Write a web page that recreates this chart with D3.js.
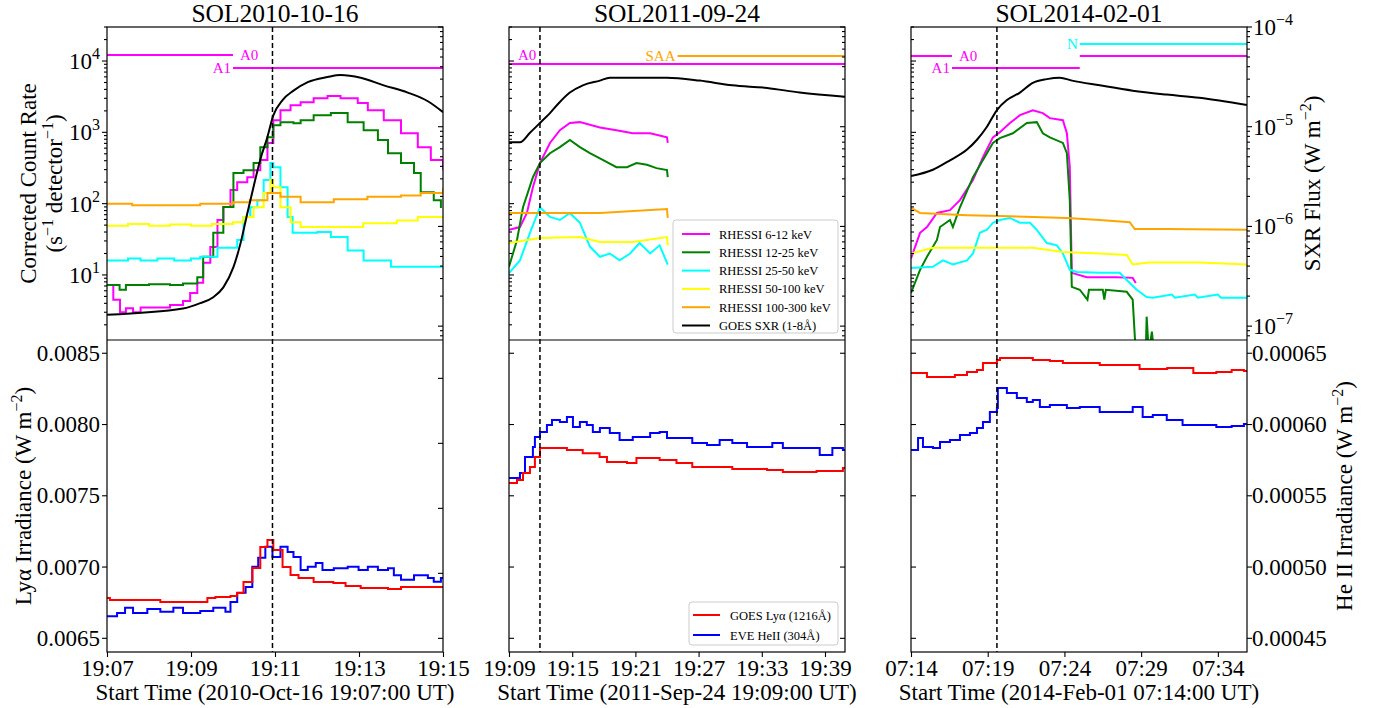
<!DOCTYPE html>
<html>
<head>
<meta charset="utf-8">
<script src="https://cdn.jsdelivr.net/npm/d3@7"></script>
<style>
  body { margin: 0; background: #fff; }
  svg text { font-family: "Liberation Serif", "DejaVu Serif", "Times New Roman", serif; }
</style>
</head>
<body>
<script>
// ---- events ----
var flareNames = ["SOL2010-10-16", "SOL2011-09-24", "SOL2014-02-01"];
var startTimes = ["2010-10-16T19:07:00Z", "2011-09-24T19:09:00Z", "2014-02-01T07:14:00Z"];
var xTitles = ["Start Time (2010-Oct-16 19:07:00 UT)", "Start Time (2011-Sep-24 19:09:00 UT)", "Start Time (2014-Feb-01 07:14:00 UT)"];
var spanMinutes = [8, 31.9, 21.9];
var tickMinutes = [[0, 2, 4, 6, 8], [0, 6, 12, 18, 24, 30], [0, 5, 10, 15, 20]];
var markerMinutes = [3.94, 2.94, 5.6];

var bandNames = ["RHESSI 6-12 keV", "RHESSI 12-25 keV", "RHESSI 25-50 keV", "RHESSI 50-100 keV", "RHESSI 100-300 keV", "GOES SXR (1-8\u00c5)"];
var bandColors = ["#ff00ff", "#008000", "#00ffff", "#ffff00", "#ffa500", "#000000"];
var uvNames = ["GOES Ly\u03b1 (1216\u00c5)", "EVE HeII (304\u00c5)"];
var uvColors = ["#ff0000", "#0000ff"];

// axis ranges
var countTicks = [10, 100, 1000, 10000];
var sxrTicks = [1e-7, 1e-6, 1e-5, 1e-4];
var lyaTicks = [0.0065, 0.0070, 0.0075, 0.0080, 0.0085];
var heTicks = [0.00045, 0.00050, 0.00055, 0.00060, 0.00065];
var he2010Ticks = [0.00043, 0.00044, 0.00045, 0.00046, 0.00047];

// ---- SOL2010-10-16 : [minutes from start, value] ----
var mag2010 = [[0,7.2],[0.15,4.5],[0.31,3.0],[0.45,3.4],[0.62,3.0],[0.8,3.5],[1.03,3.5],[1.5,3.8],[1.81,4.3],[1.98,5.6],[2.15,7.8],[2.29,14.8],[2.46,24.6],[2.63,59],[2.77,90],[2.94,155],[3.1,200],[3.34,235],[3.49,295],[3.65,410],[3.82,710],[3.96,1480],[4.13,2040],[4.37,2400],[4.61,2650],[4.92,3000],[5.25,3240],[5.56,3000],[5.97,2580],[6.21,2040],[6.59,1480],[7.0,970],[7.4,620],[7.71,410],[8.0,295]];
var grn2010 = [[0,7.2],[0.3,6.2],[0.45,7.2],[1.0,7.4],[1.5,7.2],[1.81,7.6],[2.15,9.3],[2.29,18],[2.53,39],[2.77,90],[3.01,270],[3.25,295],[3.49,370],[3.65,620],[3.82,850],[3.96,1260],[4.13,1390],[4.44,1340],[4.61,1480],[4.92,1740],[5.33,1870],[5.73,1390],[6.11,1070],[6.45,780],[6.69,510],[7.0,370],[7.31,270],[7.47,145],[7.78,112],[7.95,87]];
var cyn2010 = [[0,16],[0.5,17],[0.8,16],[1.2,17],[1.6,16],[2.0,17],[2.22,18],[2.63,24],[3.1,31],[3.25,65],[3.41,89],[3.58,112],[3.73,214],[3.89,370],[3.96,325],[4.13,170],[4.3,65],[4.42,39],[4.68,39],[5.01,40],[5.33,34],[5.73,22],[6.11,16],[6.76,13],[8.0,13]];
var yel2010 = [[0,49],[0.5,52],[1.0,49],[1.5,51],[2.0,49],[2.5,52],[3.0,55],[3.25,65],[3.49,89],[3.73,141],[3.89,214],[3.96,170],[4.13,89],[4.37,55],[4.61,47],[5.3,47],[6.1,53],[6.9,58],[7.4,65],[8.0,65]];
var org2010 = [[0,100],[0.6,95],[2.22,100],[3.0,105],[3.4,112],[3.82,141],[3.96,141],[4.13,125],[4.61,105],[5.4,115],[6.2,125],[7.0,130],[7.47,141],[8.0,165]];
var goes2010 = [[0,1.3e-7],[1.81,1.5e-7],[2.22,1.7e-7],[2.53,1.95e-7],[2.77,2.45e-7],[3.01,3.9e-7],[3.18,6.8e-7],[3.34,1.35e-6],[3.49,2.5e-6],[3.65,4.7e-6],[3.82,7.9e-6],[3.96,1.3e-5],[4.18,1.85e-5],[4.44,2.3e-5],[4.78,2.8e-5],[5.25,3.15e-5],[5.56,3.3e-5],[6.04,3.1e-5],[6.59,2.6e-5],[7.16,2.2e-5],[7.64,1.8e-5],[8.0,1.4e-5]];
var lya2010 = [[0,0.006783],[0.07,0.006769],[1.27,0.006755],[2.15,0.006755],[2.39,0.006783],[2.58,0.00679],[2.94,0.006797],[3.1,0.006818],[3.25,0.006895],[3.46,0.006993],[3.65,0.007141],[3.82,0.00719],[3.96,0.00712],[4.18,0.007],[4.37,0.006944],[4.56,0.006923],[4.92,0.006895],[5.39,0.006888],[5.68,0.006867],[6.04,0.006853],[6.69,0.006846],[7.0,0.00686],[8.0,0.00686]];
var he2010 = [[0,0.0004334],[0.24,0.0004339],[0.43,0.0004347],[0.62,0.0004339],[0.96,0.0004345],[1.27,0.0004341],[1.58,0.0004347],[1.81,0.0004339],[2.22,0.0004342],[2.53,0.0004347],[2.82,0.0004341],[2.94,0.0004356],[3.1,0.000437],[3.3,0.0004379],[3.46,0.000441],[3.6,0.0004424],[3.77,0.0004441],[3.94,0.0004425],[4.13,0.0004441],[4.3,0.0004433],[4.44,0.0004425],[4.61,0.0004405],[4.78,0.000441],[4.97,0.0004416],[5.13,0.0004405],[5.4,0.0004408],[5.73,0.000441],[5.99,0.0004405],[6.21,0.000441],[6.45,0.0004405],[6.69,0.0004408],[6.83,0.0004397],[7.0,0.000439],[7.31,0.0004397],[7.64,0.0004393],[7.78,0.0004387],[7.95,0.0004393],[8.0,0.0004393]];

// ---- SOL2011-09-24 ----
var mag2011 = [[0,43],[1.04,47],[1.7,74],[2.27,170],[2.94,370],[3.89,710],[4.83,1070],[5.78,1350],[6.73,1390],[8.63,1170],[10.2,1070],[11.75,970],[13.4,970],[15.0,850],[15.07,710]];
var grn2011 = [[0,13],[0.76,31],[1.33,89],[2.27,235],[2.94,370],[3.89,510],[4.83,620],[5.78,780],[6.73,620],[7.68,510],[8.9,410],[10.2,325],[11.2,325],[12.1,370],[13.1,350],[14.0,315],[15.0,295],[15.07,235]];
var cyn2011 = [[0,10.6],[1.04,16],[1.99,39],[2.94,89],[3.89,65],[4.83,59],[5.78,74],[6.73,54],[7.68,25],[8.63,18],[9.57,20],[10.5,16],[11.5,20],[12.4,28],[13.4,20],[14.3,26],[15.07,14]];
var yel2011 = [[0,28],[2.94,33],[6.73,34],[8.63,29],[11.75,29],[15.0,34],[15.07,26]];
var org2011 = [[0,74],[8.63,74],[15.0,84],[15.07,63]];
var goes2011 = [[0,7.0e-6],[1.04,7.0e-6],[1.99,8.7e-6],[2.94,1.09e-5],[3.89,1.37e-5],[4.74,1.73e-5],[5.78,2.2e-5],[7.01,2.6e-5],[8.63,2.9e-5],[9.57,3.1e-5],[11.75,3.1e-5],[14.98,3.1e-5],[18.1,2.9e-5],[21.2,2.6e-5],[24.5,2.45e-5],[27.6,2.2e-5],[31.9,2.0e-5]];
var lya2011 = [[0,0.00759],[0.76,0.007611],[1.33,0.00766],[1.99,0.007702],[2.46,0.007772],[2.94,0.007835],[3.89,0.007835],[5.5,0.007821],[7.0,0.007799],[8.6,0.007772],[9.3,0.007737],[11.2,0.00773],[12.1,0.007765],[14.3,0.007751],[15.9,0.00773],[17.4,0.007702],[18.7,0.007702],[21.2,0.007688],[24.5,0.007681],[26.0,0.007667],[29.2,0.007674],[31.7,0.007695],[31.9,0.007695]];
var he2011 = [[0,0.0005625],[1.04,0.000566],[1.52,0.0005772],[2.27,0.0005842],[2.46,0.0005913],[2.94,0.0005948],[3.6,0.0005997],[4.08,0.0006032],[4.83,0.0006018],[5.5,0.0006053],[6.07,0.0005983],[6.73,0.0006018],[7.39,0.0005997],[7.96,0.0005948],[8.63,0.0005975],[9.57,0.0005941],[10.5,0.0005892],[11.75,0.0005913],[13.4,0.0005941],[14.3,0.0005948],[15.0,0.0005906],[16.5,0.0005906],[17.4,0.000587],[18.8,0.0005856],[20.0,0.0005892],[21.2,0.000587],[22.6,0.0005842],[23.8,0.0005842],[25.0,0.000587],[26.0,0.0005835],[27.6,0.0005835],[29.5,0.0005786],[30.7,0.0005835],[31.7,0.0005821],[31.9,0.0005821]];

// ---- SOL2014-02-01 ----
var mag2014 = [[0,17],[0.59,39],[1.04,47],[1.69,74],[2.54,81],[3.19,112],[4.04,214],[4.69,450],[5.34,850],[5.79,1000],[6.45,1350],[7.1,1740],[7.94,2040],[8.59,1860],[9.05,1580],[9.9,1480],[10.16,970],[10.35,325],[10.48,10.7],[11.46,9.3],[13.4,9.3],[14.45,9.1],[14.65,7.7]];
var grn2014 = [[0,5.6],[0.59,11.8],[1.04,18],[1.69,31],[1.89,47],[2.54,59],[2.73,47],[3.19,89],[4.04,235],[4.69,410],[5.34,710],[5.79,830],[6.64,970],[7.55,1350],[8.2,1390],[8.59,970],[9.05,850],[9.9,710],[10.16,510],[10.35,112],[10.48,6.8],[11.0,6.2],[11.5,4.5],[11.6,6.2],[12.5,6.2],[12.6,4.5],[12.7,6.2],[14.06,5.8],[14.45,4.5],[14.65,0.8],[15.3,0.8],[15.36,2.6],[15.5,0.8],[15.7,1.6],[15.85,0.8]];
var cyn2014 = [[0,12.5],[1.43,13],[2.08,16],[2.73,14],[3.65,16],[4.04,20],[4.49,39],[4.95,43],[5.34,54],[5.79,59],[6.45,63],[7.1,54],[7.75,54],[8.2,43],[8.85,28],[9.51,26],[9.9,20],[10.35,11.8],[10.81,11],[12.3,10.7],[13.6,10.7],[14.06,8.5],[14.71,6.2],[15.36,4.9],[15.76,4.8],[17.0,5.3],[17.2,4.8],[18.5,5.3],[18.7,4.8],[20.0,5.3],[20.2,4.8],[21.9,4.8]];
var yel2014 = [[0,20],[1.43,24],[7.94,24],[9.9,21],[12.3,20],[14.06,19],[14.45,14],[15.5,15],[18.8,15],[21.9,14]];
var org2014 = [[0,87],[0.59,74],[3.65,69],[5.79,67],[7.94,65],[10.16,63],[12.3,59],[14.26,55],[14.58,44],[16.67,44],[21.9,43]];
var goes2014 = [[0,3.2e-6],[1.43,3.7e-6],[2.54,4.6e-6],[3.65,5.9e-6],[4.3,7.4e-6],[4.95,1.0e-5],[5.6,1.47e-5],[6.25,1.85e-5],[7.1,2.2e-5],[7.94,2.75e-5],[8.85,3.0e-5],[9.7,3.1e-5],[10.5,2.9e-5],[12.3,2.6e-5],[14.45,2.3e-5],[16.67,2.1e-5],[18.8,1.95e-5],[21.9,1.65e-5]];
var lya2014 = [[0,0.008362],[1.04,0.008334],[2.86,0.008348],[3.65,0.008369],[4.3,0.008383],[4.69,0.008432],[5.6,0.008453],[5.8,0.008467],[6.9,0.008467],[7.94,0.008453],[9.05,0.008446],[9.9,0.008432],[12.3,0.008418],[14.9,0.00839],[16.7,0.008397],[18.4,0.008362],[19.9,0.008369],[20.9,0.008383],[21.7,0.008376],[21.9,0.008376]];
var he2014 = [[0,0.0005821],[0.46,0.0005906],[0.78,0.0005842],[1.43,0.0005835],[1.89,0.0005877],[2.54,0.0005892],[3.19,0.0005927],[3.84,0.0005941],[4.3,0.0005976],[4.69,0.0006018],[5.14,0.0006088],[5.6,0.0006116],[5.66,0.0006257],[6.25,0.0006221],[6.9,0.0006186],[7.55,0.0006158],[7.94,0.0006172],[8.4,0.0006123],[9.05,0.0006137],[10.16,0.0006116],[11.0,0.0006123],[12.3,0.0006088],[13.4,0.0006088],[14.45,0.0006123],[15.1,0.0006053],[15.76,0.0006067],[16.67,0.0006032],[17.7,0.0005997],[18.8,0.0005997],[19.9,0.0005983],[20.9,0.000599],[21.7,0.0006004],[21.9,0.0006004]];

// attenuator / SAA / night flags: [label, from, to, level (count rate)]
var flags2010 = [["A0", 0, 3.0, 12140], ["A1", 3.0, 8, 7980]];
var flags2011 = [["A0", 0, 31.9, 9077], ["SAA", 16.0, 31.9, 11750]];
var flags2014 = [["A0", 0, 2.67, 11750], ["A1", 2.67, 11.0, 7980], ["", 11.0, 21.9, 11750], ["N", 11.0, 21.9, 17300]];

var bandSeries = [[mag2010, grn2010, cyn2010, yel2010, org2010], [mag2011, grn2011, cyn2011, yel2011, org2011], [mag2014, grn2014, cyn2014, yel2014, org2014]];
var goesSeries = [goes2010, goes2011, goes2014];
var lyaSeries = [lya2010, lya2011, lya2014];
var heSeries = [he2010, he2011, he2014];
var flagSeries = [flags2010, flags2011, flags2014];

// ---- layout ----
var W = 1379, H = 708;
var panelLeft = [107, 509, 911];
var panelW = 336;
var top0 = 27, mid = 340, bot1 = 652;
var fs = 23;

var svg = d3.select("body").append("svg").attr("width", W).attr("height", H)
    .attr("font-family", "Liberation Serif, DejaVu Serif, serif");

var yCount = d3.scaleLog().domain([1.224, 30000]).range([mid, top0]);
var ySxr = d3.scaleLog().domain([7.26e-8, 1e-4]).range([mid, top0]);
var yLya = d3.scaleLinear().domain([0.006404, 0.008593]).range([bot1, mid]);
var yHe = d3.scaleLinear().domain([0.0004404, 0.0006593]).range([bot1, mid]);
var yHe2010 = d3.scaleLinear().domain([0.0004279, 0.0004759]).range([bot1, mid]);

function minorLog(scale) {
    var d = scale.domain(), out = [];
    for (var e = Math.floor(Math.log10(d[0])); e <= Math.ceil(Math.log10(d[1])); e++) {
        for (var k = 2; k <= 9; k++) {
            var v = k * Math.pow(10, e);
            if (v >= d[0] && v <= d[1]) out.push(v);
        }
    }
    return out;
}

// ticks on a vertical spine; dir -1 = to the left, +1 = to the right
function vTicks(x, scale, vals, dir, len) {
    svg.append("g").selectAll("line").data(vals).enter().append("line")
        .attr("x1", x).attr("x2", x + dir * len)
        .attr("y1", function (d) { return scale(d); })
        .attr("y2", function (d) { return scale(d); })
        .attr("stroke", "black").attr("stroke-width", 1.1);
}

function powLabel(x, y, exp, anchor) {
    var t = svg.append("text").attr("x", x).attr("y", y).attr("font-size", fs).attr("text-anchor", anchor);
    t.append("tspan").text("10");
    t.append("tspan").attr("dy", -10).attr("font-size", 16).text(exp);
}

// parts: [text, isSuperscript]; the shift is put on the next real tspan
function supText(sel, parts) {
    var raised = false;
    parts.forEach(function (p) {
        var ts = sel.append("tspan").text(p[0]);
        if (p[1] && !raised) { ts.attr("dy", -9).attr("font-size", 16); raised = true; }
        else if (p[1]) { ts.attr("font-size", 16); }
        else if (raised) { ts.attr("dy", 9); raised = false; }
    });
}

for (var i = 0; i < 3; i++) {
    var x0 = panelLeft[i], x1 = x0 + panelW;
    var t0 = new Date(startTimes[i]);
    var x = d3.scaleUtc().domain([t0, new Date(+t0 + spanMinutes[i] * 60000)]).range([x0, x1]);
    var tx = function (m) { return x(new Date(+t0 + m * 60000)); };

    svg.append("clipPath").attr("id", "ct" + i).append("rect")
        .attr("x", x0).attr("y", top0).attr("width", panelW).attr("height", mid - top0);
    svg.append("clipPath").attr("id", "cb" + i).append("rect")
        .attr("x", x0).attr("y", mid).attr("width", panelW).attr("height", bot1 - mid);

    var gTop = svg.append("g").attr("clip-path", "url(#ct" + i + ")");
    var gBot = svg.append("g").attr("clip-path", "url(#cb" + i + ")");

    // flags
    flagSeries[i].forEach(function (f) {
        var col = f[0] === "SAA" ? "#ffa500" : (f[0] === "N" ? "#00ffff" : "#ff00ff");
        var yy = yCount(f[3]);
        gTop.append("line").attr("x1", tx(f[1])).attr("x2", tx(f[2])).attr("y1", yy).attr("y2", yy)
            .attr("stroke", col).attr("stroke-width", 2);
        if (!f[0]) return;
        var lab = svg.append("text").attr("font-size", 15).attr("fill", col).text(f[0]);
        if (f[0] === "A0" && f[1] === 0 && f[2] < spanMinutes[i]) {
            lab.attr("x", tx(f[2]) + 7).attr("y", yy + 5).attr("text-anchor", "start");
        } else if (f[0] === "A0") {
            lab.attr("x", tx(f[1]) + 9).attr("y", yy - 4).attr("text-anchor", "start");
        } else {
            lab.attr("x", tx(f[1]) - 2).attr("y", yy + 5).attr("text-anchor", "end");
        }
    });

    // RHESSI bands
    var bandCurve = i === 0 ? d3.curveStepAfter : d3.curveLinear;
    bandSeries[i].forEach(function (s, k) {
        var line = d3.line().curve(bandCurve)
            .x(function (d) { return tx(d[0]); })
            .y(function (d) { return yCount(d[1]); });
        gTop.append("path").datum(s).attr("d", line).attr("fill", "none")
            .attr("stroke", bandColors[k]).attr("stroke-width", 2);
    });
    var goesLine = d3.line().curve(d3.curveMonotoneX)
        .x(function (d) { return tx(d[0]); })
        .y(function (d) { return ySxr(d[1]); });
    gTop.append("path").datum(goesSeries[i]).attr("d", goesLine).attr("fill", "none")
        .attr("stroke", "black").attr("stroke-width", 2);

    // UV
    var heScale = i === 0 ? yHe2010 : yHe;
    var lyaLine = d3.line().curve(d3.curveStepAfter)
        .x(function (d) { return tx(d[0]); }).y(function (d) { return yLya(d[1]); });
    var heLine = d3.line().curve(d3.curveStepAfter)
        .x(function (d) { return tx(d[0]); }).y(function (d) { return heScale(d[1]); });
    gBot.append("path").datum(heSeries[i]).attr("d", heLine).attr("fill", "none")
        .attr("stroke", uvColors[1]).attr("stroke-width", 2);
    gBot.append("path").datum(lyaSeries[i]).attr("d", lyaLine).attr("fill", "none")
        .attr("stroke", uvColors[0]).attr("stroke-width", 2);

    // peak marker
    svg.append("line").attr("x1", tx(markerMinutes[i])).attr("x2", tx(markerMinutes[i]))
        .attr("y1", top0).attr("y2", bot1)
        .attr("stroke", "black").attr("stroke-width", 1.5).attr("stroke-dasharray", "5,3");

    // frames
    svg.append("rect").attr("x", x0).attr("y", top0).attr("width", panelW).attr("height", bot1 - top0)
        .attr("fill", "none").attr("stroke", "black").attr("stroke-width", 1.2);
    svg.append("line").attr("x1", x0).attr("x2", x1).attr("y1", mid).attr("y2", mid)
        .attr("stroke", "black").attr("stroke-width", 1.2);

    // y ticks
    var ld = i === 0 ? -1 : 1, rd = i === 2 ? 1 : -1;
    vTicks(x0, yCount, countTicks, ld, 5);
    vTicks(x0, yCount, minorLog(yCount), ld, 3);
    vTicks(x1, ySxr, sxrTicks, rd, 5);
    vTicks(x1, ySxr, minorLog(ySxr), rd, 3);
    vTicks(x0, yLya, lyaTicks, ld, 5);
    vTicks(x1, heScale, i === 0 ? he2010Ticks : heTicks, rd, 5);

    // x axis
    var xAxis = d3.axisBottom(x)
        .tickValues(tickMinutes[i].map(function (m) { return new Date(+t0 + m * 60000); }))
        .tickFormat(d3.utcFormat("%H:%M")).tickSize(5).tickPadding(3);
    var ga = svg.append("g").attr("transform", "translate(0," + bot1 + ")").call(xAxis);
    ga.select(".domain").remove();
    ga.attr("font-family", null);
    ga.selectAll("text").attr("font-size", fs);
    ga.selectAll("line").attr("stroke-width", 1.1);

    svg.append("text").attr("x", (x0 + x1) / 2).attr("y", 700).attr("font-size", fs)
        .attr("text-anchor", "middle").text(xTitles[i]);
    svg.append("text").attr("x", (x0 + x1) / 2).attr("y", 22).attr("font-size", 25.5)
        .attr("text-anchor", "middle").text(flareNames[i]);
}

// outer tick labels
countTicks.forEach(function (v) { powLabel(100, yCount(v) + 8, Math.log10(v).toFixed(0), "end"); });
sxrTicks.forEach(function (v) { powLabel(1253, ySxr(v) + 8, "\u2212" + (-Math.log10(v)).toFixed(0), "start"); });
lyaTicks.forEach(function (v) {
    svg.append("text").attr("x", 100).attr("y", yLya(v) + 7.5).attr("font-size", fs)
        .attr("text-anchor", "end").text(d3.format(".4f")(v));
});
heTicks.forEach(function (v) {
    svg.append("text").attr("x", 1252).attr("y", yHe(v) + 7.5).attr("font-size", fs)
        .attr("text-anchor", "start").text(d3.format(".5f")(v));
});

// axis titles
var topMid = (top0 + mid) / 2, botMid = (mid + bot1) / 2;
svg.append("text").attr("transform", "translate(36," + topMid + ") rotate(-90)")
    .attr("font-size", fs).attr("text-anchor", "middle").text("Corrected Count Rate");
supText(svg.append("text").attr("transform", "translate(62," + topMid + ") rotate(-90)")
    .attr("font-size", fs).attr("text-anchor", "middle"),
    [["(s"], ["\u22121", true], [" detector"], ["\u22121", true], [")"]]);
supText(svg.append("text").attr("transform", "translate(31," + botMid + ") rotate(-90)")
    .attr("font-size", fs).attr("text-anchor", "middle"),
    [["Ly\u03b1 Irradiance (W m"], ["\u22122", true], [")"]]);
supText(svg.append("text").attr("transform", "translate(1320," + topMid + ") rotate(-90)")
    .attr("font-size", fs).attr("text-anchor", "middle"),
    [["SXR Flux (W m"], ["\u22122", true], [")"]]);
supText(svg.append("text").attr("transform", "translate(1352," + botMid + ") rotate(-90)")
    .attr("font-size", fs).attr("text-anchor", "middle"),
    [["He II Irradiance (W m"], ["\u22122", true], [")"]]);

// legends (middle panel)
var lg = svg.append("g").attr("transform", "translate(673,220)");
lg.append("rect").attr("width", 165).attr("height", 113).attr("rx", 3)
    .attr("fill", "white").attr("fill-opacity", 0.8).attr("stroke", "#cccccc");
bandNames.forEach(function (n, k) {
    var yy = 14 + k * 18.3;
    lg.append("line").attr("x1", 9).attr("x2", 37).attr("y1", yy).attr("y2", yy)
        .attr("stroke", bandColors[k]).attr("stroke-width", 2);
    lg.append("text").attr("x", 46).attr("y", yy + 4.5).attr("font-size", 12.5).text(n);
});
var lg2 = svg.append("g").attr("transform", "translate(689,602)");
lg2.append("rect").attr("width", 149).attr("height", 43).attr("rx", 3)
    .attr("fill", "white").attr("fill-opacity", 0.8).attr("stroke", "#cccccc");
uvNames.forEach(function (n, k) {
    var yy = 13 + k * 20;
    lg2.append("line").attr("x1", 4).attr("x2", 31).attr("y1", yy).attr("y2", yy)
        .attr("stroke", uvColors[k]).attr("stroke-width", 2);
    lg2.append("text").attr("x", 41).attr("y", yy + 4.5).attr("font-size", 12.5).text(n);
});
</script>
</body>
</html>
